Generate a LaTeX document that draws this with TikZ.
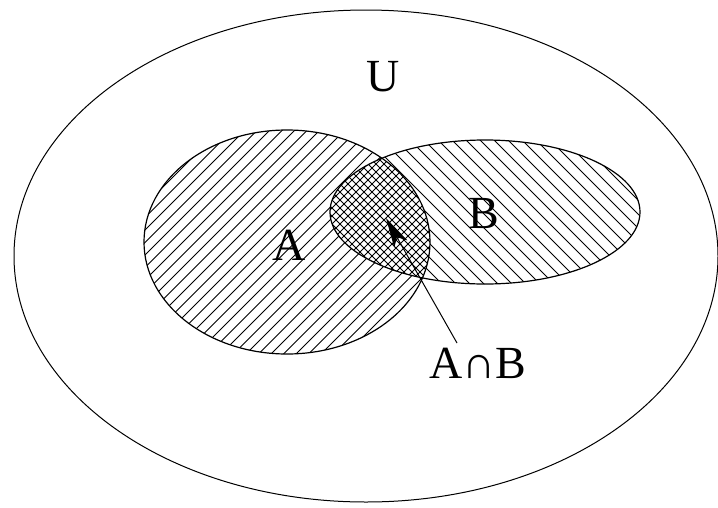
\documentclass[tikz,border=0pt]{standalone}
\usepackage{fontspec}
\setmainfont{Liberation Serif}
\usetikzlibrary{arrows.meta}
\tikzset{
  setline/.style={line width=1.2pt},
  hatchline/.style={line width=0.9pt},
  lbl/.style={font=\fontsize{46}{50}\selectfont, inner sep=0pt}
}
\begin{document}
\begin{tikzpicture}[x=1pt,y=-1pt]
\useasboundingbox (0,0) rectangle (718,507);
% outer universe
\draw[line width=1pt] (366,256) ellipse [x radius=352, y radius=246];
% hatching of A (/)
\begin{scope}
  \clip (287,242) ellipse [x radius=143, y radius=112];
  \foreach \k in {-500,-487.5,...,700} \draw[hatchline] (\k,600) -- (\k+600,0);
\end{scope}
% hatching of B (\)
\begin{scope}
  \clip (485,212) ellipse [x radius=155, y radius=72];
  \foreach \k in {-500,-486,...,800} \draw[hatchline] (\k,0) -- (\k+600,600);
\end{scope}
% crosshatch of the intersection
\begin{scope}
  \clip (287,242) ellipse [x radius=143, y radius=112];
  \clip (485,212) ellipse [x radius=155, y radius=72];
  \fill[white] (0,0) rectangle (718,507);
  \foreach \k in {-500,-492,...,800} {
    \draw[hatchline] (\k,600) -- (\k+600,0);
    \draw[hatchline] (\k,0) -- (\k+600,600);
  }
\end{scope}
\draw[setline] (287,242) ellipse [x radius=143, y radius=112];
\draw[setline] (485,212) ellipse [x radius=155, y radius=72];
% labels
\node[lbl] (U) at (383,77) {U};
\node[lbl] (A) at (289,245) {A};
\node[lbl] (B) at (484,214) {B};
\node[lbl] (AnB) at (478,363) {A∩B};
\coordinate (tail) at (457,343);
\coordinate (tip) at (386,218);
\draw[line width=1pt, -{Stealth[length=30pt,width=15pt,inset=8pt]}] (tail) -- (tip);
\end{tikzpicture}
\end{document}
